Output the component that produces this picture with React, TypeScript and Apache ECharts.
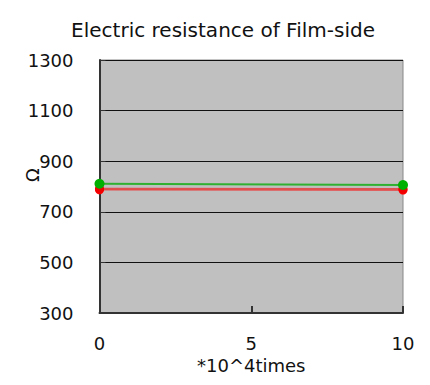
import React, { useEffect, useRef } from "react";
import * as echarts from "echarts";

const titleText = "Electric resistance of Film-side";
const xAxisName = "*10^4times";
const yAxisName = "Ω";
const xTicks = [0, 5, 10];
const yMin = 300;
const yMax = 1300;
const yInterval = 200;
const cycles = [0, 10];
const greenValues = [811, 806];
const redLightValues = [791, 790];
const redValues = [787, 786];

export default function App() {
  const ref = useRef<HTMLDivElement>(null);
  useEffect(() => {
    if (!ref.current) return;
    const chart = echarts.init(ref.current, null, { renderer: "svg" });
    const font = "DejaVu Sans, Verdana, sans-serif";
    const mk = (vals: number[]) => cycles.map((c, i) => [c, vals[i]]);
    chart.setOption({
      animation: false,
      backgroundColor: "#ffffff",
      title: {
        text: titleText,
        left: 218,
        textAlign: "center",
        top: 15,
        textStyle: { fontFamily: font, fontSize: 20, fontWeight: "normal", color: "#111" },
      },
      graphic: [
        {
          type: "text",
          x: 32,
          y: 175,
          rotation: Math.PI / 2,
          style: {
            text: yAxisName,
            font: `18px ${font}`,
            fill: "#111",
            textAlign: "center",
            textVerticalAlign: "middle",
          },
        },
      ],
      grid: [
        {
          left: 99.5,
          right: 27,
          top: 60,
          bottom: 72,
          show: true,
          backgroundColor: "#c0c0c0",
          borderColor: "#888",
          borderWidth: 1,
        },
        {
          left: 5,
          right: 1,
          top: 5,
          bottom: -40,
          show: true,
          backgroundColor: "transparent",
          borderColor: "#555",
          borderWidth: 1,
        },
      ],
      xAxis: [
        {
          type: "value",
          min: xTicks[0],
          max: xTicks[xTicks.length - 1],
          interval: 5,
          name: xAxisName,
          nameLocation: "middle",
          nameGap: 41,
          nameTextStyle: { fontFamily: font, fontSize: 18, color: "#111" },
          axisLine: { show: true, onZero: false, lineStyle: { color: "#333", width: 2 } },
          axisTick: { show: true, inside: true, length: 7, lineStyle: { color: "#333", width: 2 } },
          axisLabel: { fontFamily: font, fontSize: 18, color: "#111", margin: 21 },
          splitLine: { show: false },
        },
        { type: "value", gridIndex: 1, show: false, min: 0, max: 1 },
      ],
      yAxis: [
        {
          type: "value",
          min: yMin,
          max: yMax,
          interval: yInterval,
          axisLine: { show: true, lineStyle: { color: "#333", width: 2 } },
          axisTick: { show: true, inside: true, length: 6, lineStyle: { color: "#333" } },
          axisLabel: {
            fontFamily: font,
            fontSize: 18,
            color: "#111",
            margin: 26,
            formatter: (v: number) => String(v),
          },
          splitLine: { show: true, lineStyle: { color: "#111", width: 1 } },
        },
        { type: "value", gridIndex: 1, show: false, min: 0, max: 1 },
      ],
      series: [
        {
          type: "line",
          data: mk(redValues),
          symbol: "circle",
          symbolSize: 9,
          itemStyle: { color: "#ff0000" },
          lineStyle: { color: "#ff0000", width: 1 },
        },
        {
          type: "line",
          data: mk(redLightValues),
          symbol: "circle",
          symbolSize: 9,
          itemStyle: { color: "#f00000" },
          lineStyle: { color: "#e05050", width: 2 },
        },
        {
          type: "line",
          data: mk(greenValues),
          symbol: "circle",
          symbolSize: 10,
          itemStyle: { color: "#00b000" },
          lineStyle: { color: "#30b030", width: 2 },
        },
      ],
    });
    return () => chart.dispose();
  }, []);
  return <div ref={ref} style={{ width: 430, height: 385, margin: -8 }} />;
}
